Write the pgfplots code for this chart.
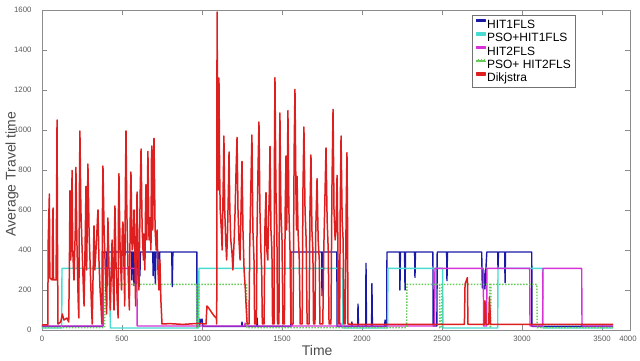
\documentclass[border=0pt]{standalone}
\usepackage{pgfplots}
\pgfplotsset{compat=1.18}
\usepackage{fontspec}
\setmainfont{Liberation Sans}
\definecolor{hitone}{rgb}{0.10,0.10,0.66}
\definecolor{psoone}{rgb}{0.28,0.86,0.82}
\definecolor{hittwo}{rgb}{0.84,0.20,0.84}
\definecolor{psotwo}{rgb}{0.40,0.80,0.35}
\definecolor{dijkred}{rgb}{0.87,0.12,0.12}
\begin{document}
\begin{tikzpicture}
\begin{axis}[
  at={(0,0)}, anchor=south west,
  scale only axis, width=588pt, height=320pt,
  xmin=0, xmax=3675, ymin=0, ymax=1600,
  xtick={0,500,...,3500}, ytick={0,200,...,1600},
  % the 4000 label sits at the right edge of the box in the reference
  extra x ticks={3662}, extra x tick labels={4000},
  extra x tick style={major tick length=0pt},
  /pgf/number format/.cd, fixed, 1000 sep={}, assume math mode=true, /pgfplots/.cd,
  tick align=inside, major tick length=5pt,
  axis line style={black!45}, tick style={black!45},
  tick label style={font=\fontsize{7.8}{9}\selectfont, text=black!65},
  yticklabel style={xshift=-7pt},
  xticklabel style={yshift=-3pt},
  xlabel={Time}, ylabel={Average Travel time},
  label style={font=\fontsize{14}{16}\selectfont, text=black!70},
  xlabel style={at={(axis description cs:0.468,-0.0625)}, anchor=center},
  ylabel style={at={(axis description cs:-0.051,0.4875)}, anchor=center},
  legend style={at={(axis description cs:0.9065,0.984)}, anchor=north east,
    font=\fontsize{12}{13}\selectfont, draw=black!55, inner sep=3pt,
    row sep=0.7pt, nodes={inner sep=1pt, execute at begin node=\strut},
    cells={anchor=west}},
  % short samples drawn as thin filled bars, so they keep their colour when rasterised
  legend image code/.code={\fill[#1] (0pt,3pt) rectangle (9pt,4.8pt);},
  ]
\addplot[color=hitone, line width=1.4pt, line join=round] coordinates {
 (0,18) (380,18) (381,390) (404,390) (406,257) (408,390) (560,390) (562,250) (566,390)
 (572,390) (575,222) (580,390) (588,390) (591,230) (596,300) (600,390) (609,390) (612,270)
 (615,390) (692,390) (695,272) (698,390) (705,390) (708,230) (712,390) (730,390) (733,280)
 (736,390) (811,390) (814,217) (818,390) (968,390) (969,18)
 (984,18) (987,55) (992,38) (1000,55) (1006,18) (1248,18) (1250,40) (1253,18) (1342,18)
 (1344,60) (1347,18) (1555,18) (1556,390) (1748,390) (1750,172) (1753,390) (1843,390)
 (1844,18) (1935,18) (1937,40) (1940,18) (1973,18) (1975,130) (1978,18) (2023,18)
 (2025,333) (2028,18) (2060,18) (2062,232) (2065,18) (2142,18) (2144,50) (2147,18)
 (2155,18) (2156,390) (2235,390) (2237,200) (2240,390) (2266,390) (2269,200) (2272,390)
 (2329,390) (2331,263) (2334,390) (2443,390) (2445,20) (2468,20) (2470,390) (2529,390)
 (2531,247) (2534,390) (2748,390) (2752,210) (2760,300) (2768,205) (2780,390) (2848,390)
 (2850,310) (2853,390) (2892,390) (2894,237) (2897,390) (3061,390) (3062,18) (3373,18)
 (3375,30) (3378,18) (3569,18)};
\addlegendentry{HIT1FLS}
\addplot[color=psoone, line width=1.4pt, line join=round] coordinates {
 (0,10) (123,10) (125,308) (423,308) (427,10) (979,10) (981,308) (1879,308) (1881,10)
 (2160,10) (2162,308) (2504,308) (2506,10) (2848,10) (2850,308) (3129,308) (3131,10)
 (3569,10)};
\addlegendentry{PSO+HIT1FLS}
\addplot[color=hittwo, line width=1.4pt, line join=round] coordinates {
 (0,20) (379,20) (381,308) (593,308) (595,20) (1267,20) (1269,35) (1271,20) (1560,20)
 (1562,35) (1564,20) (1865,20) (1867,35) (1869,20) (2454,20) (2456,308) (2758,308)
 (2760,20) (2779,20) (2781,308) (3048,308) (3050,20) (3129,20) (3131,308) (3373,308)
 (3375,20) (3569,20)};
\addlegendentry{HIT2FLS}
\addplot[color=psotwo, line width=1.4pt, dash pattern=on 1.5pt off 1.5pt] coordinates {
 (0,12) (392,12) (394,228) (966,228) (968,12) (979,12) (981,228) (1279,228) (1281,12)
 (2279,12) (2281,228) (2485,228) (2487,12) (2497,12) (2499,228) (2798,228) (2800,12)
 (2804,12) (2806,228) (3093,228) (3095,12) (3569,12)};
\addlegendentry{PSO+ HIT2FLS}
\addplot[color=dijkred, line width=1.5pt, line join=round] coordinates {
 (0,25) (36,25) (39,450) (46,680) (49,260) (64,250) (66,520) (69,610) (72,250) (88,250)
 (91,600) (94,1050) (97,400) (100,30) (117,40) (127,80) (137,50) (156,60) (167,40)
 (171,300) (175,697) (179,350) (183,420) (188,798) (192,400) (200,250) (208,500) (212,813)
 (218,450) (226,150) (230,60) (234,700) (237,995) (243,600) (251,400) (259,200) (263,120)
 (271,500) (275,718) (279,300) (284,600) (287,830) (294,500) (302,300) (310,100) (314,30)
 (322,400) (325,520) (330,300) (341,450) (347,560) (350,600) (356,350) (363,200) (369,120)
 (374,30) (378,600) (381,820) (388,500) (396,300) (404,80) (410,450) (412,560) (419,300)
 (427,100) (433,300) (438,450) (444,250) (450,100) (453,500) (456,620) (462,350) (470,150)
 (476,60) (478,600) (481,782) (487,450) (497,200) (502,500) (506,540) (513,300) (517,120)
 (521,700) (525,995) (530,600) (538,300) (546,100) (552,600) (556,790) (563,400) (570,450)
 (575,600) (581,350) (585,120) (590,500) (594,690) (600,350) (606,200) (614,700) (619,905)
 (626,500) (634,350) (637,480) (643,300) (647,600) (650,727) (655,450) (659,700) (662,893)
 (669,450) (673,500) (675,560) (681,400) (684,850) (687,920) (692,500) (697,850) (700,958)
 (707,500) (714,400) (719,500) (725,300) (731,200) (737,350) (743,150) (750,30)
 (800,32) (880,28) (975,33) (1025,30) (1031,120) (1040,112) (1060,88) (1078,68) (1090,60)
 (1092,30) (1093,700) (1094,1590) (1098,1000) (1102,700) (1106,1260) (1110,800) (1114,600)
 (1121,500) (1126,400) (1131,650) (1135,850) (1137,970) (1142,600) (1148,450) (1154,350)
 (1160,500) (1165,700) (1169,890) (1174,600) (1180,450) (1188,380) (1193,300) (1201,450)
 (1207,600) (1213,800) (1219,963) (1225,600) (1231,450) (1238,350) (1244,600) (1250,843)
 (1256,500) (1263,300) (1271,200) (1277,100) (1282,30) (1294,30) (1298,400) (1305,700)
 (1312,975) (1318,500) (1325,350) (1329,30) (1340,30) (1344,500) (1350,800) (1356,1040)
 (1362,600) (1368,400) (1373,300) (1377,30) (1388,30) (1393,500) (1400,687) (1405,400)
 (1411,350) (1415,500) (1421,700) (1425,918) (1431,500) (1437,400) (1441,30) (1450,30)
 (1453,900) (1456,1262) (1462,700) (1468,500) (1472,30) (1481,30) (1484,800) (1487,1085)
 (1493,600) (1500,450) (1506,30) (1515,30) (1520,600) (1525,870) (1529,500) (1533,700)
 (1537,1097) (1543,600) (1550,400) (1556,30) (1569,30) (1576,900) (1581,1203) (1587,700)
 (1591,500) (1594,768) (1600,500) (1608,350) (1614,30) (1626,30) (1631,700) (1637,1015)
 (1644,600) (1651,450) (1657,30) (1669,30) (1675,600) (1681,875) (1687,500) (1693,400)
 (1697,30) (1706,30) (1711,500) (1719,757) (1726,450) (1733,350) (1737,30) (1755,30)
 (1761,400) (1768,650) (1775,910) (1782,550) (1789,400) (1794,30) (1806,30) (1812,700)
 (1819,1103) (1825,600) (1832,450) (1838,500) (1844,773) (1849,450) (1853,30) (1860,30)
 (1864,600) (1869,970) (1876,550) (1882,450) (1887,30) (1895,30) (1901,600) (1906,887)
 (1910,500) (1912,30)
 (1960,28) (2640,28) (2644,230) (2659,262) (2662,28) (2765,28) (2768,146) (2772,120)
 (2775,28) (2792,28) (2796,165) (2800,100) (2803,28) (3569,28)};
\addlegendentry{Dikjstra}
\end{axis}
\pgfresetboundingbox
\path[use as bounding box] (-42pt,-31pt) rectangle (598pt,330pt);
\end{tikzpicture}
\end{document}
